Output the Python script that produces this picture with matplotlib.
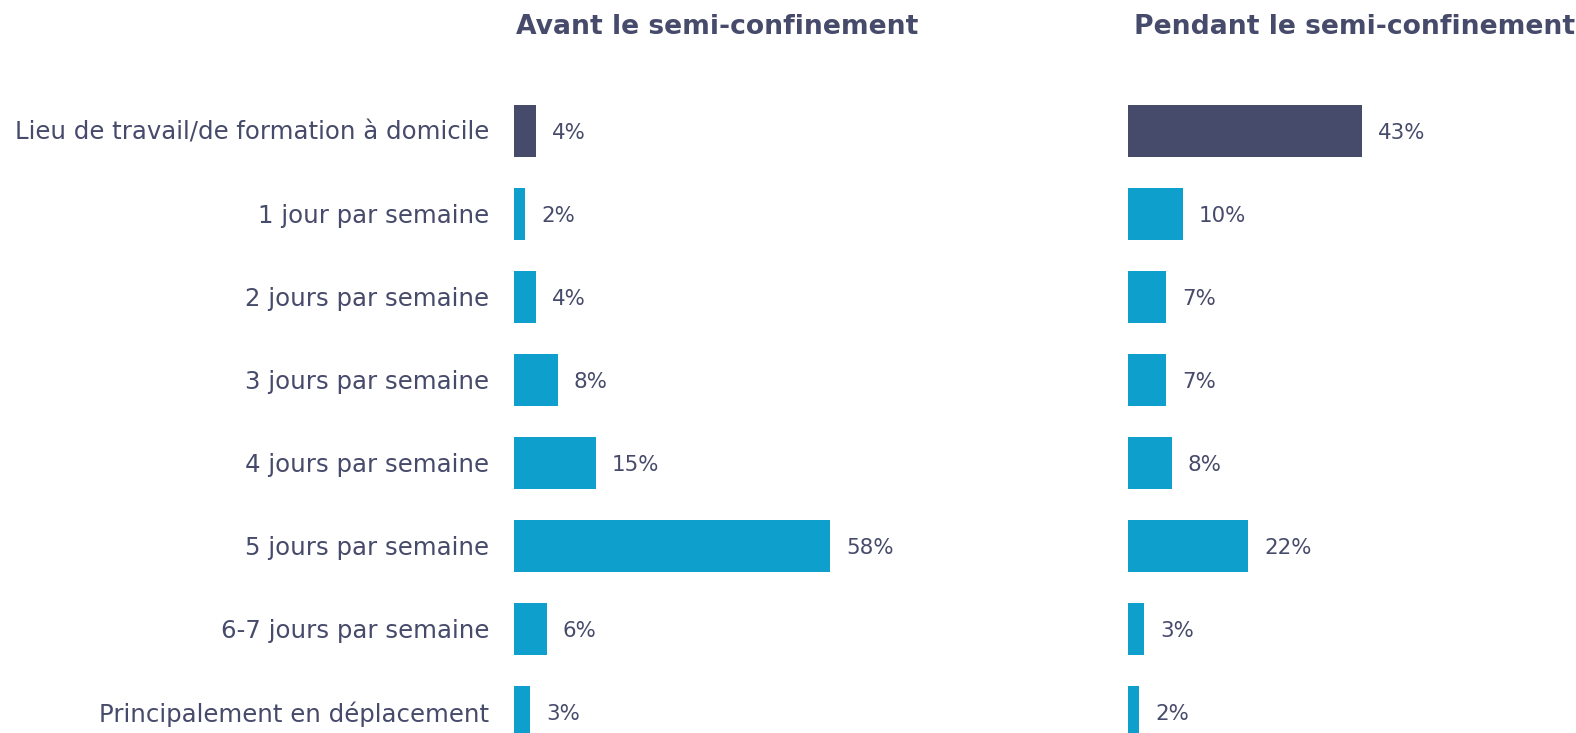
import matplotlib
matplotlib.use("Agg")
import matplotlib.pyplot as plt

categories = [
    "Lieu de travail/de formation à domicile",
    "1 jour par semaine",
    "2 jours par semaine",
    "3 jours par semaine",
    "4 jours par semaine",
    "5 jours par semaine",
    "6-7 jours par semaine",
    "Principalement en déplacement",
]
avant = [4, 2, 4, 8, 15, 58, 6, 3]
pendant = [43, 10, 7, 7, 8, 22, 3, 2]
titles = ["Avant le semi-confinement", "Pendant le semi-confinement"]

DARK = "#474b6b"
BLUE = "#0e9fcd"
FONT = ["DejaVu Sans"]

W, H = 1576, 733
fig = plt.figure(figsize=(W / 100, H / 100), dpi=100)

px = 5.45  # pixels per percent
row = 83.0
first = 131.0
ylim = (-(first) / row, (H - first) / row)
dy = 2 / row

def make_ax(x0, xmax):
    width = xmax * px
    ax = fig.add_axes([x0 / W, 0, width / W, 1])
    ax.set_xlim(0, xmax)
    ax.set_ylim(ylim[1], ylim[0])
    ax.axis("off")
    return ax

ax1 = make_ax(514, 100)
ax2 = make_ax(1128, 80)

for ax, vals, title, toff in [(ax1, avant, titles[0], 2), (ax2, pendant, titles[1], 6)]:
    colors = [DARK] + [BLUE] * (len(vals) - 1)
    ypos = list(range(len(vals)))
    ax.barh(ypos, vals, height=0.63, color=colors, clip_on=False)
    for y, v in zip(ypos, vals):
        ax.text(v + 16 / px, y + dy, f"{v}%", va="center", ha="left",
                fontsize=15.4, color=DARK, family=FONT)
    ax.text(toff / px, -104 / row, title, ha="left", va="center",
            fontsize=19.2, fontweight="bold", color=DARK, family=FONT)

for y, c in enumerate(categories):
    ax1.text(-25 / px, y + dy, c, ha="right", va="center", fontsize=17.6,
             color=DARK, family=FONT)

fig.savefig("out.png", dpi=100)
